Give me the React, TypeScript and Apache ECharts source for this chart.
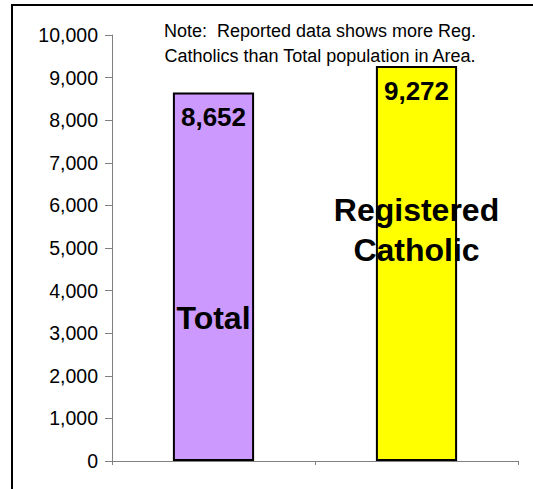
import React, { useEffect, useRef } from "react";
import * as echarts from "echarts";

const categories = ["Total", "Registered Catholic"];
const values = [8652, 9272];
const barColors = ["#CC99FF", "#FFFF00"];
const categoryLabels = ["Total", "Registered\nCatholic"];
const categoryLabelY = [3350, 5420];
const yTicks = [0, 1000, 2000, 3000, 4000, 5000, 6000, 7000, 8000, 9000, 10000];
const noteText = "Note:  Reported data shows more Reg.\nCatholics than Total population in Area.";

const fmt = (v: number) => v.toLocaleString("en-US");
const FONT = "Liberation Sans, Arial, sans-serif";

export default function App() {
  const ref = useRef<HTMLDivElement>(null);
  useEffect(() => {
    if (!ref.current) return;
    const chart = echarts.init(ref.current, undefined, { renderer: "svg" });
    chart.setOption({
      animation: false,
      backgroundColor: "#ffffff",
      textStyle: { fontFamily: FONT },
      grid: { left: 112, top: 35, right: 15, bottom: 28 },
      xAxis: {
        type: "category",
        data: categories,
        axisLine: { lineStyle: { color: "#808080", width: 1 } },
        axisTick: { show: true, length: 4, lineStyle: { color: "#808080" } },
        axisLabel: { show: false },
      },
      yAxis: {
        type: "value",
        min: yTicks[0],
        max: yTicks[yTicks.length - 1],
        interval: 1000,
        splitLine: { show: false },
        axisLine: { show: true, lineStyle: { color: "#808080", width: 1 } },
        axisTick: { show: true, length: 7, lineStyle: { color: "#808080" } },
        axisLabel: {
          color: "#000",
          fontSize: 19.5,
          margin: 14,
          fontFamily: FONT,
          formatter: (v: number) => fmt(v),
        },
      },
      series: [
        {
          type: "bar",
          barWidth: "40%",
          data: values.map((v, i) => ({
            value: v,
            itemStyle: { color: barColors[i], borderColor: "#000", borderWidth: 2 },
          })),
          label: {
            show: true,
            position: "insideTop",
            distance: 12,
            color: "#000",
            fontSize: 26,
            fontWeight: "bold",
            fontFamily: FONT,
            formatter: (p: any) => fmt(p.value),
          },
        },
        {
          type: "scatter",
          symbolSize: 0,
          silent: true,
          itemStyle: { color: "#000", opacity: 1 },
          data: categoryLabelY.map((v, i) => ({ value: [categories[i], v], name: categoryLabels[i] })),
          label: {
            show: true,
            position: "inside",
            color: "#000",
            opacity: 1,
            textBorderWidth: 0,
            fontSize: 32,
            lineHeight: 40,
            fontWeight: "bold",
            align: "center",
            verticalAlign: "middle",
            fontFamily: FONT,
            formatter: (p: any) => p.name,
          },
          z: 10,
        },
      ],
      graphic: [
        {
          type: "rect",
          shape: { x: 12, y: 5, width: 560, height: 520 },
          style: { fill: "none", stroke: "#000", lineWidth: 2 },
          silent: true,
        },
        {
          type: "text",
          x: 320,
          y: 18,
          style: {
            text: noteText,
            align: "center",
            verticalAlign: "top",
            fontSize: 18,
            lineHeight: 25,
            fill: "#000",
            fontFamily: FONT,
          },
        },
      ],
    });
    return () => chart.dispose();
  }, []);
  return <div ref={ref} style={{ width: 533, height: 489, position: "absolute", left: 0, top: 0 }} />;
}
